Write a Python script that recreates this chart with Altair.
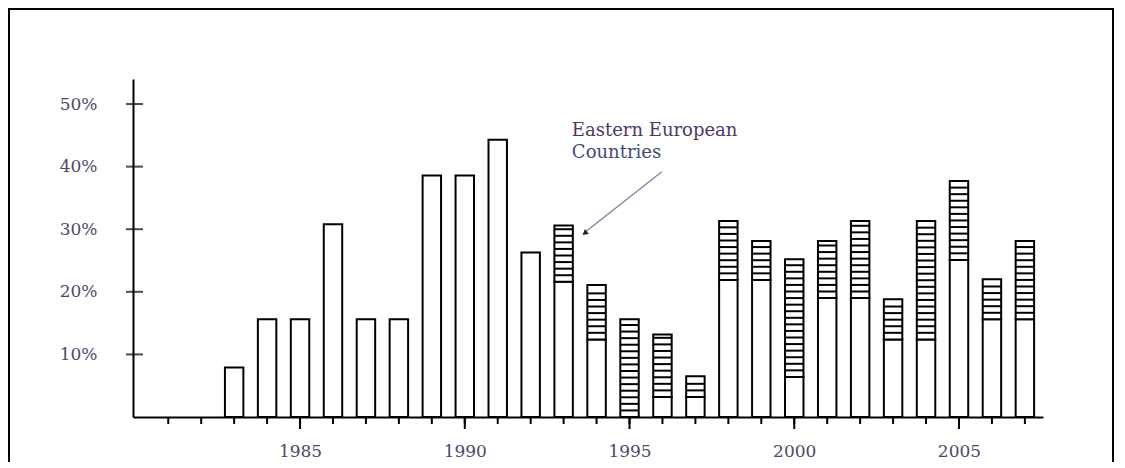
import altair as alt
import pandas as pd

# ---- data ----
years = list(range(1983, 2008))
other_countries = [7.9, 15.6, 15.6, 30.8, 15.6, 15.6, 38.6, 38.6, 44.3, 26.3,
                   21.6, 12.4, 0.0, 3.2, 3.2, 21.9, 21.9, 6.4, 19.0, 19.0,
                   12.4, 12.4, 25.1, 15.6, 15.6]
eastern_european = [0, 0, 0, 0, 0, 0, 0, 0, 0, 0,
                    9.0, 8.7, 15.6, 10.0, 3.3, 9.4, 6.2, 18.8, 9.1, 12.3,
                    6.4, 18.9, 12.6, 6.4, 12.5]

y_tick_values = [10, 20, 30, 40, 50]
x_label_years = [1985, 1990, 1995, 2000, 2005]
x_tick_years = list(range(1981, 2008))

annot_lines = ["Eastern European", "Countries"]

# ---- tables ----
rows = []
for y, o, e in zip(years, other_countries, eastern_european):
    rows.append({"year": y, "other": o, "total": round(o + e, 2), "east": e})
df = pd.DataFrame(rows)
df_east = df[df["east"] > 0]

hatch_step = 1.05
hatch_rows = []
for _, r in df_east.iterrows():
    k = 1
    while r["other"] + k * hatch_step < r["total"] - 0.45:
        hatch_rows.append({"year": r["year"], "level": r["other"] + k * hatch_step})
        k += 1
df_hatch = pd.DataFrame(hatch_rows)

W, H = 910, 338
xscale = alt.Scale(domain=[1979.93, 2007.55], nice=False, zero=False)
yscale = alt.Scale(domain=[0, 54], nice=False, zero=True)
HALF = 0.28
FONT = "DejaVu Serif"

base = alt.Chart(df).transform_calculate(
    x_lo=f"datum.year - {HALF}", x_hi=f"datum.year + {HALF}"
)

frame = alt.Chart(pd.DataFrame({"a": [0]})).mark_rect(
    fill=None, fillOpacity=0, stroke="black", strokeWidth=2, clip=False
).encode(x=alt.value(-124), x2=alt.value(980), y=alt.value(-70), y2=alt.value(420))

bars_other = base.mark_rect(fill="white", stroke="black", strokeWidth=2).encode(
    x=alt.X("x_lo:Q", scale=xscale,
            axis=alt.Axis(values=x_label_years, format="d", ticks=False, grid=False,
                          title=None, domainColor="black", domainWidth=2,
                          labelFont=FONT, labelFontSize=17, labelColor="#4a4a6a",
                          labelPadding=26)),
    x2="x_hi:Q",
    y=alt.Y("other:Q", scale=yscale,
            axis=alt.Axis(values=y_tick_values, labelExpr="datum.value + '%'",
                          ticks=False, grid=False, title=None, domainColor="black",
                          domainWidth=2, labelFont=FONT, labelFontSize=17,
                          labelColor="#4a4a6a", labelPadding=36)),
    y2=alt.datum(0),
)

bars_east = alt.Chart(df_east).transform_calculate(
    x_lo=f"datum.year - {HALF}", x_hi=f"datum.year + {HALF}"
).mark_rect(fill="white", stroke="black", strokeWidth=2).encode(
    x=alt.X("x_lo:Q", scale=xscale), x2="x_hi:Q",
    y=alt.Y("other:Q", scale=yscale), y2="total:Q",
)

hatch = alt.Chart(df_hatch).transform_calculate(
    x_lo=f"datum.year - {HALF}", x_hi=f"datum.year + {HALF}"
).mark_rule(color="black", strokeWidth=2).encode(
    x=alt.X("x_lo:Q", scale=xscale), x2="x_hi:Q",
    y=alt.Y("level:Q", scale=yscale),
)

ytick = alt.Chart(pd.DataFrame({"v": y_tick_values})).mark_tick(
    orient="horizontal", color="black", thickness=2, size=17
).encode(y=alt.Y("v:Q", scale=yscale), x=alt.value(1.5))

xtick_minor = alt.Chart(pd.DataFrame({"yr": x_tick_years})).mark_rule(
    color="black", strokeWidth=2
).encode(x=alt.X("yr:Q", scale=xscale), y=alt.value(H), y2=alt.value(H + 7))

xtick_major = alt.Chart(pd.DataFrame({"yr": x_label_years})).mark_rule(
    color="black", strokeWidth=2
).encode(x=alt.X("yr:Q", scale=xscale), y=alt.value(H), y2=alt.value(H + 12))

arrow_line = alt.Chart(pd.DataFrame({"x1": [1995.98], "y1": [39.2],
                                     "x2": [1993.62], "y2": [29.4]})).mark_rule(
    color="#7f7fa8", strokeWidth=1.3
).encode(x=alt.X("x1:Q", scale=xscale), y=alt.Y("y1:Q", scale=yscale),
         x2="x2:Q", y2="y2:Q")

arrow_head = alt.Chart(pd.DataFrame({"x": [1993.64], "y": [29.35]})).mark_point(
    shape="triangle-up", filled=True, color="#222222", size=40, angle=232, opacity=1
).encode(x=alt.X("x:Q", scale=xscale), y=alt.Y("y:Q", scale=yscale))

annot = alt.Chart(pd.DataFrame({"t": annot_lines, "x": [1993.25, 1993.25],
                                "y": [45.76, 42.14],
                                "c": ["#4e3768", "#3b4d78"]})).mark_text(
    align="left", baseline="middle", font=FONT, fontSize=18
).encode(x=alt.X("x:Q", scale=xscale), y=alt.Y("y:Q", scale=yscale),
         text="t:N", color=alt.Color("c:N", scale=None))

chart = alt.layer(
    frame, bars_other, bars_east, hatch, ytick, xtick_minor, xtick_major,
    arrow_line, arrow_head, annot
).properties(
    width=W, height=H,
    autosize=alt.AutoSizeParams(type="none"),
    padding={"left": 125, "top": 71, "right": 72, "bottom": 45},
).configure(background="white", view=alt.ViewConfig(stroke=None))

chart.save("out.html", embed_options={"renderer": "svg", "actions": False})
